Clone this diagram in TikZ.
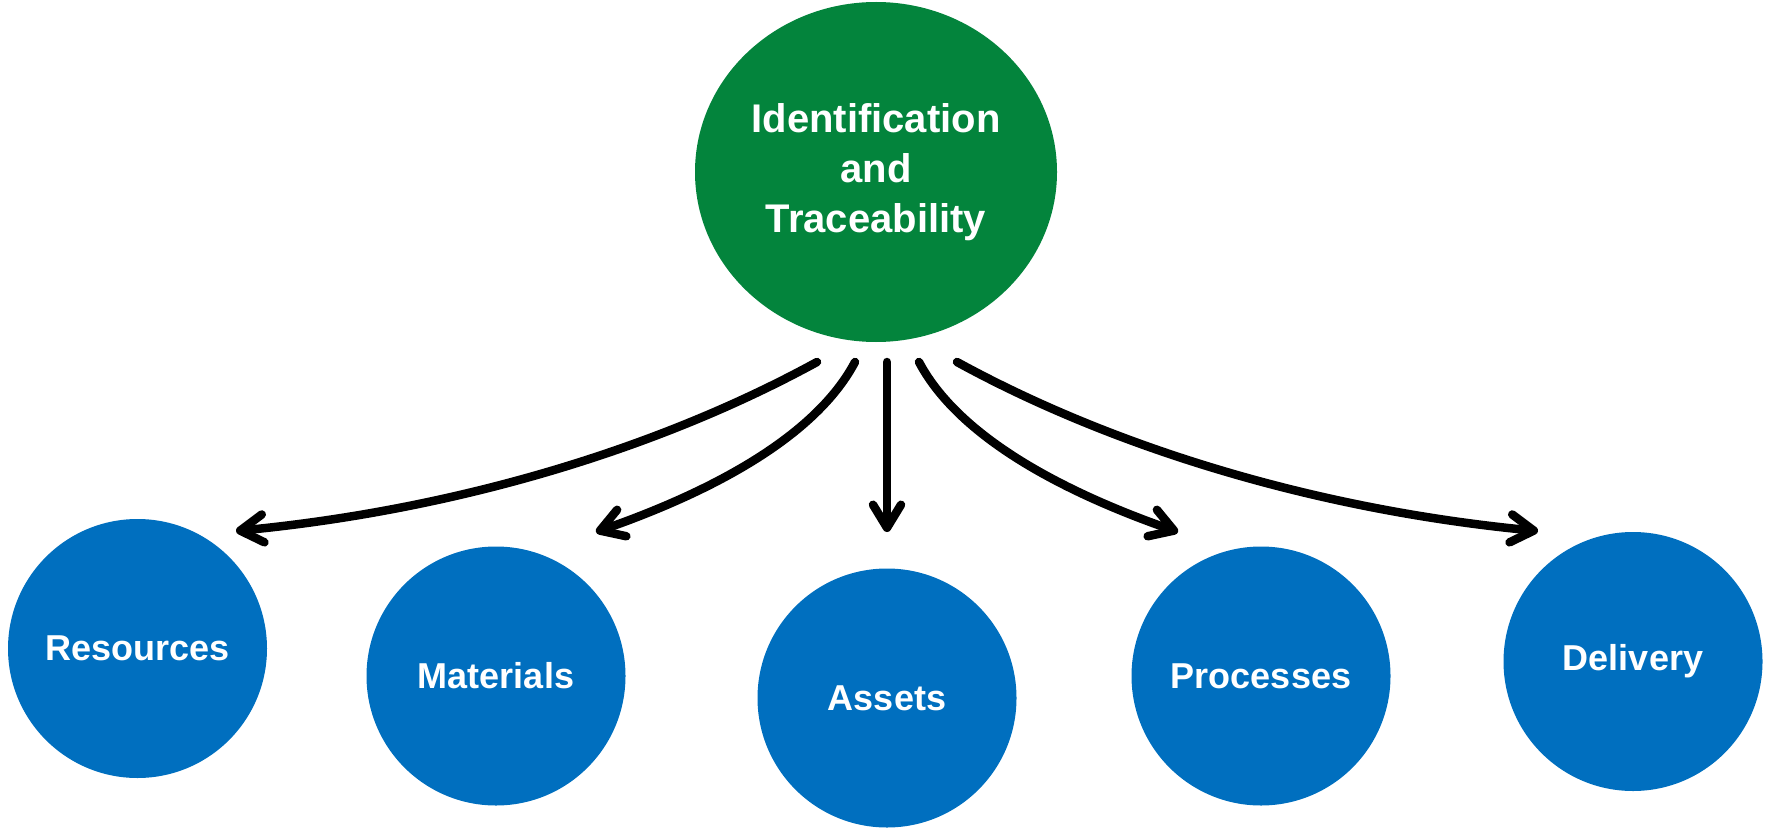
\documentclass[tikz,border=0pt]{standalone}
\usepackage{fontspec}
\setmainfont{Liberation Sans}
\usetikzlibrary{arrows.meta,shapes.geometric}
\definecolor{topgreen}{HTML}{03843C}
\definecolor{leafblue}{HTML}{006FBF}
\tikzset{
  topnode/.style={ellipse, fill=topgreen, text=white, inner sep=0pt,
    minimum width=362pt, minimum height=340pt, align=center,
    font=\fontsize{40}{50}\selectfont\bfseries},
  leaf/.style={circle, fill=leafblue, text=white, inner sep=0pt,
    minimum size=259pt, font=\fontsize{36}{44}\selectfont\bfseries},
  link/.style={line width=8.5pt, line cap=round, line join=round,
    -{Straight Barb[length=23pt,width=28pt,round]}}
}
\begin{document}
\begin{tikzpicture}[x=1pt,y=-1pt]
\useasboundingbox (0,0) rectangle (1776,837);
\node[topnode] (top) at (876,172) {Identification\\and\\Traceability};
\node[leaf] (res) at (137.5,648.5) {Resources};
\node[leaf] (mat) at (496,676) {Materials};
\node[leaf] (ast) at (887,698) {Assets};
\node[leaf] (pro) at (1261,676) {Processes};
\node[leaf] (del) at (1633,661.5) {Delivery};
% start and end points of the connectors
\coordinate (s1) at (817,362); \coordinate (e1) at (236,531);
\coordinate (s2) at (855,362); \coordinate (e2) at (596,532);
\coordinate (s3) at (887,362); \coordinate (e3) at (887,532);
\coordinate (s4) at (919,362); \coordinate (e4) at (1178,532);
\coordinate (s5) at (957,362); \coordinate (e5) at (1538,531);
\draw[link] (s1) .. controls (660,448) and (457.7,509.7) .. (e1);
\draw[link] (s2) .. controls (820,428.3) and (731,484.9) .. (e2);
\draw[link] (s3) -- (e3);
\draw[link] (s4) .. controls (954,428.3) and (1043,484.9) .. (e4);
\draw[link] (s5) .. controls (1114,448) and (1316.3,509.7) .. (e5);
\end{tikzpicture}
\end{document}
